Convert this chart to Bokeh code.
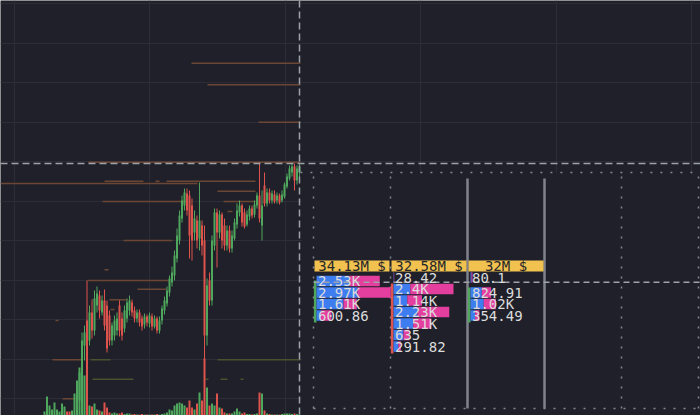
from bokeh.plotting import figure
from bokeh.models import Range1d, FixedTicker, Span, ColumnDataSource
from bokeh.core.properties import value
from bokeh.embed import file_html
from bokeh.resources import INLINE

# ---------------- price candles (one per bar index) ----------------
opens = [59600, 59680, 59740, 59770, 59790, 59820, 59840, 59850, 59880, 59900, 59870, 59850, 59880,
         59950, 60150, 60320, 60700, 60950, 60750, 61030, 60850, 61100, 61200, 61030, 61150, 61100, 61000,
         60750, 60800, 60850, 61100, 60970, 60870, 60970, 61050, 61130, 61050, 60970, 61030, 60970, 60910,
         60990, 60920, 60990, 60890, 60970, 60850, 60950, 61050, 61120, 61230, 61330, 61400, 61570, 61750,
         61970, 62100, 62220, 62200, 62100, 61830, 61950, 61770, 61900, 61750, 60800, 61350, 61150, 61700,
         62030, 61830, 62010, 61900, 61700, 61850, 61670, 61770, 61910, 62030, 62100, 62030, 61910, 61990,
         62070, 62010, 62100, 62200, 61900, 62300, 62120, 62230, 62150, 62210, 62150, 62200, 62150, 62190,
         62290, 62370, 62430, 62490, 62350, 62430]
highs = [59700, 59760, 59790, 59800, 59840, 59850, 59860, 59890, 59910, 59910, 59880, 59890, 59960,
         60250, 60470, 60830, 60900, 61350, 61100, 61150, 61250, 61290, 61250, 61200, 61260, 61150, 61050,
         60930, 61000, 61030, 61150, 61030, 61100, 61170, 61200, 61160, 61090, 61060, 61060, 61000, 61020,
         61010, 61030, 61020, 61000, 60990, 60990, 61100, 61190, 61290, 61400, 61490, 61650, 61870, 62050,
         62200, 62270, 62270, 62250, 62170, 62050, 62000, 62330, 61950, 61900, 61370, 61430, 61800, 62070,
         62070, 62050, 62030, 61970, 61900, 61900, 61850, 61970, 62120, 62150, 62120, 62070, 62050, 62100,
         62100, 62150, 62230, 62530, 62250, 62430, 62270, 62270, 62250, 62250, 62230, 62220, 62250, 62330,
         62420, 62500, 62520, 62520, 62500, 62520]
lows = [59580, 59660, 59720, 59750, 59770, 59800, 59820, 59830, 59860, 59860, 59840, 59840, 59870,
        59900, 60100, 60250, 60550, 59750, 60700, 60770, 60800, 61030, 60970, 61000, 60850, 60630, 60700,
        60700, 60750, 60800, 60790, 60750, 60830, 60930, 61000, 60990, 60930, 60930, 60890, 60850, 60870,
        60890, 60880, 60850, 60870, 60820, 60820, 60910, 61010, 61090, 61190, 61290, 61350, 61530, 61710,
        61930, 62050, 62000, 61570, 61550, 61750, 61670, 61650, 61600, 59750, 60700, 61100, 61100, 61650,
        61480, 61770, 61670, 61650, 61650, 61630, 61630, 61750, 61870, 61990, 61890, 61870, 61890, 61950,
        61970, 61980, 62070, 61930, 61750, 62090, 62090, 62120, 62120, 62120, 62120, 62110, 62130, 62170,
        62270, 62350, 62390, 62250, 62310, 62370]
closes = [59680, 59740, 59770, 59790, 59820, 59840, 59850, 59880, 59900, 59870, 59850, 59880, 59940,
          60200, 60430, 60750, 60830, 60450, 61030, 60850, 61170, 61220, 61050, 61150, 60900, 60670, 60750,
          60900, 60950, 60970, 60850, 60800, 61050, 61130, 61150, 61030, 60970, 61030, 60930, 60890, 60990,
          60930, 61000, 60890, 60970, 60850, 60950, 61070, 61150, 61250, 61370, 61430, 61600, 61800, 62000,
          62150, 62230, 62050, 61800, 61750, 61970, 61750, 61950, 61700, 60800, 61300, 61150, 61750, 62030,
          61830, 62010, 61750, 61700, 61850, 61670, 61800, 61930, 62050, 62100, 61930, 61890, 62010, 62070,
          62000, 62110, 62200, 61970, 62100, 62120, 62230, 62150, 62220, 62140, 62200, 62130, 62210, 62310,
          62390, 62470, 62490, 62350, 62470, 62490]
volumes = [40, 190, 100, 60, 130, 60, 40, 120, 90, 40, 40, 50, 220,
           350, 480, 600, 400, 550, 100, 90, 120, 60, 50, 40, 130, 80, 30, 20, 30, 20, 20, 30, 15, 20, 20,
           10, 15, 10, 10, 15, 10, 10, 10, 10, 10, 15, 10, 15, 20, 30, 60, 50, 100, 120, 130, 120, 100, 80,
           150, 80, 60, 120, 230, 150, 570, 280, 100, 120, 100, 220, 80, 70, 30, 20, 20, 20, 40, 70, 40, 20,
           30, 15, 15, 10, 15, 20, 230, 220, 50, 20, 15, 10, 10, 10, 10, 15, 20, 20, 20, 15, 20, 15, 10]

# ---------------- horizontal volume levels ----------------
level_price = [63523, 63307, 62933, 62533, 62343, 62343, 62343, 62320, 62243, 62140, 62140, 62040,
               61750, 61457, 61350, 61263, 61157, 61157, 61060, 60950, 60557, 60557, 60557,
               60363, 60363, 60363, 60363, 60167]
level_start = [58.8, 65.2, 85.6, 17.6, 24, 44.4, 48.8, -17.6, 69.2, 23.2, 71.6, 73.2,
               31.6, 24, 17.2, 37.2, 26, 18.8, 26.4, 4.4, 3.2, 18.4, 69.2,
               19.2, 64.4, 70.4, 78.4, 7.2]
level_end = [102.4, 102.4, 102.4, 102.4, 39.6, 46, 84.4, 61.2, 84.4, 57.2, 84.4, 75.2,
             51.2, 25.6, 49.6, 48.8, 32.8, 19.6, 28, 5.6, 15.2, 26.4, 102.4,
             35.6, 65.6, 73.2, 79.6, 12.4]
level_kind = ["sell"] * 21 + ["buy"] * 6 + ["sell"]

# ---------------- footprint clusters ----------------
fp_columns = [0, 1, 2]
fp_turnover = [34.13e6, 32.58e6, 32.0e6]
fp_open = [60930, 61320, 60930]
fp_close = [61350, 60620, 61280]

row_col = [0, 0, 0, 0, 1, 1, 1, 1, 1, 1, 1, 2, 2, 2, 2]
row_price = [61345, 61230, 61115, 61000,
             61380, 61265, 61150, 61035, 60920, 60805, 60690,
             61380, 61230, 61115, 61000]
row_bid = [1320, 1640, 1080, 180,
           14, 670, 550, 960, 790, 400, 195,
           40, 450, 530, 185]
row_ask = [1210, 1330, 530, 420.86,
           14.42, 1730, 590, 1270, 720, 235, 96.82,
           40.1, 374.91, 490, 169.49]
fp_last_price = 61333

cross_bar = 102
cross_price = 62520

# ---------------- styling ----------------
BG = "#1f2029"
GRID = "#2c2d37"
UP = "#4fa65d"
DOWN = "#df534d"
BLUE = "#3e7df0"
PINK = "#e43f9f"
YELLOW = "#f1c24f"
TEXT = "#dcdcdc"
LINE = "#9ea2ab"
MONO = value("DejaVu Sans Mono")

VOL_PER_COL = 3080.0     # cluster volume that fills one column width
PAD = 3 / 77.0           # candle strip width inside a cluster column
ROW_H = 105
BOX_TOP, BOX_BOTTOM = 62430, 60070


def compact(v):
    for div, suf in ((1e6, "M"), (1e3, "K")):
        if v >= div:
            return f"{v / div:.2f}".rstrip("0").rstrip(".") + suf
    return f"{v:.2f}".rstrip("0").rstrip(".")


p = figure(width=700, height=415,
           x_range=Range1d(-17.6, 262.4), y_range=Range1d(60000, 64150),
           output_backend="svg", toolbar_location=None,
           x_axis_location=None, y_axis_location=None, min_border=0,
           background_fill_color=BG, border_fill_color=BG, outline_line_color=None)
p.extra_x_ranges = {"fp": Range1d(-313 / 77.0, 387 / 77.0)}
p.extra_y_ranges = {"vol": Range1d(0, 4150)}

p.xgrid.ticker = FixedTicker(ticks=[-12 + 54.15 * k for k in range(6)])
p.ygrid.ticker = FixedTicker(ticks=[64120 - 395 * k for k in range(11)])
for g in (p.xgrid, p.ygrid):
    g.grid_line_color = GRID
    g.grid_line_width = 1

# volume levels
lv_color = ["#6c4634" if k == "sell" else "#47522f" for k in level_kind]
p.segment(x0=level_start, y0=level_price, x1=level_end, y1=level_price,
          line_color=lv_color, line_width=1.6)

# candles + volume
idx = list(range(len(opens)))
colors = [UP if c >= o else DOWN for o, c in zip(opens, closes)]
src = ColumnDataSource(dict(
    i=idx, h=highs, l=lows, vol=volumes, color=colors,
    top=[max(o, c) for o, c in zip(opens, closes)],
    bottom=[min(o, c) for o, c in zip(opens, closes)],
))
p.segment(x0="i", y0="l", x1="i", y1="h", line_color="color", line_width=1, source=src)
p.vbar(x="i", top="top", bottom="bottom", width=0.8, fill_color="color",
       line_color=None, source=src)
p.vbar(x="i", top="vol", bottom=0, width=0.8, fill_color="color", line_color=None,
       y_range_name="vol", source=src)

# footprint panel
p.quad(left=-0.15, right=5.2, top=BOX_TOP, bottom=59900, x_range_name="fp",
       fill_color=BG, line_color=None)
p.segment(x0=[-0.17, 0.0], y0=[BOX_TOP, BOX_BOTTOM], x1=[5.03, 5.0], y1=[BOX_TOP, BOX_BOTTOM],
          x_range_name="fp", line_color=LINE, line_width=1.5, line_dash="2 8", line_alpha=0.8)
p.segment(x0=[0, 1, 4, 5], y0=BOX_BOTTOM, x1=[0, 1, 4, 5], y1=BOX_TOP,
          x_range_name="fp", line_color=LINE, line_width=1.5, line_dash="2 8", line_alpha=0.8)
p.segment(x0=[2, 3], y0=BOX_BOTTOM, x1=[2, 3], y1=62370, x_range_name="fp",
          line_color="#80838d", line_width=2.5)

# turnover labels
p.quad(left=[c + 0.013 for c in fp_columns], right=[c + 0.987 for c in fp_columns],
       top=61550, bottom=61440, x_range_name="fp", fill_color=YELLOW, line_color=None)
p.text(x=[c + 0.5 for c in fp_columns], y=[61495] * 3,
       text=[compact(t) + " $" for t in fp_turnover], x_range_name="fp",
       text_font=MONO, text_font_size="14px", text_color="#26262b",
       text_align="center", text_baseline="middle")

# cluster candle strips
p.quad(left=[c + 0.005 for c in fp_columns], right=[c + PAD for c in fp_columns],
       top=[max(o, c) for o, c in zip(fp_open, fp_close)],
       bottom=[min(o, c) for o, c in zip(fp_open, fp_close)],
       fill_color=[UP if c >= o else DOWN for o, c in zip(fp_open, fp_close)],
       line_color=None, x_range_name="fp")

# bid / ask bars
bid_l = [c + PAD for c in row_col]
bid_r = [l + b / VOL_PER_COL for l, b in zip(bid_l, row_bid)]
ask_r = [l + a / VOL_PER_COL for l, a in zip(bid_r, row_ask)]
tops = [pr + ROW_H / 2 for pr in row_price]
bots = [pr - ROW_H / 2 for pr in row_price]
p.quad(left=bid_l, right=bid_r, top=tops, bottom=bots, fill_color=BLUE,
       line_color=None, x_range_name="fp")
p.quad(left=bid_r, right=ask_r, top=tops, bottom=bots, fill_color=PINK,
       line_color=None, x_range_name="fp")

p.segment(x0=0, y0=fp_last_price, x1=5.03, y1=fp_last_price, x_range_name="fp",
          line_color=LINE, line_width=1.5, line_dash="6 4")

p.text(x=[c + 4.5 / 77.0 for c in row_col], y=row_price,
       text=[compact(b + a) for b, a in zip(row_bid, row_ask)], x_range_name="fp",
       text_font=MONO, text_font_size="14px", text_color=TEXT,
       text_align="left", text_baseline="middle")

# crosshair
p.add_layout(Span(location=cross_bar, dimension="height", line_color=LINE,
                  line_width=1.5, line_dash="7 4"))
p.add_layout(Span(location=cross_price, dimension="width", line_color=LINE,
                  line_width=1.5, line_dash="7 4"))

open("out.html", "w").write(file_html(p, INLINE))
